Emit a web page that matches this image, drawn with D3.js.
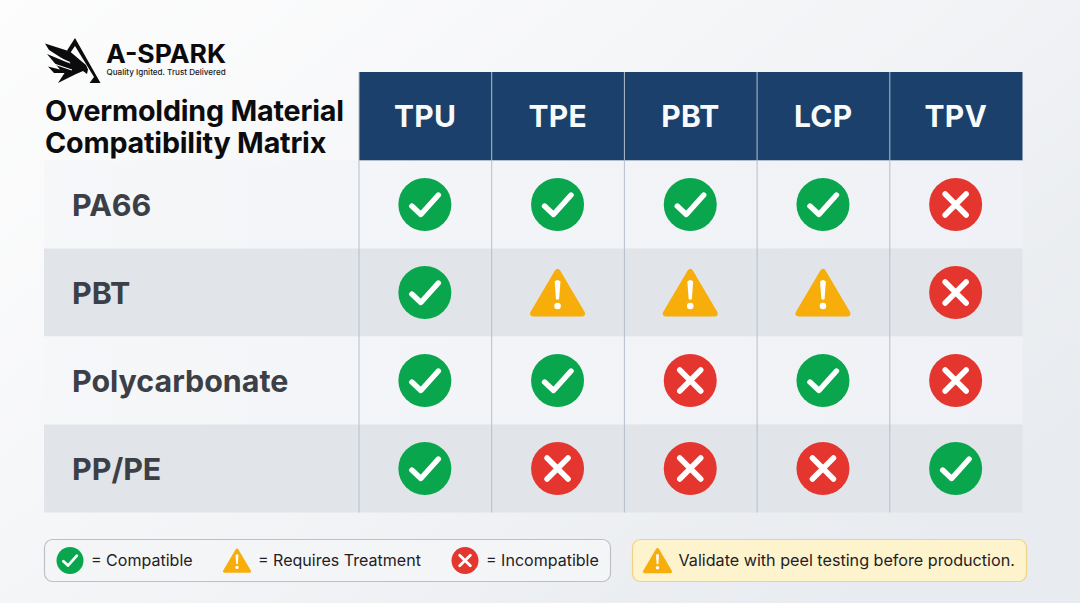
<!DOCTYPE html>
<html><head><meta charset="utf-8">
<script src="https://cdn.jsdelivr.net/npm/d3@7/dist/d3.min.js"></script>
<style>html,body{margin:0;padding:0;background:#fff;overflow:hidden}svg{display:block}text{font-family:Inter,"Noto Sans",sans-serif}</style>
</head><body><svg id="c" width="1080" height="603"></svg>
<script>
const columns = ["TPU","TPE","PBT","LCP","TPV"];
const materials = ["PA66","PBT","Polycarbonate","PP/PE"];
const rowPA66 = ["ok","ok","ok","ok","no"];
const rowPBT = ["ok","warn","warn","warn","no"];
const rowPC = ["ok","ok","no","ok","no"];
const rowPPPE = ["ok","no","no","no","ok"];
const matrix = [rowPA66,rowPBT,rowPC,rowPPPE];
const titleLines = ["Overmolding Material","Compatibility Matrix"];
const legendItems = [{k:"ok",t:"= Compatible"},{k:"warn",t:"= Requires Treatment"},{k:"no",t:"= Incompatible"}];
const legendX = [70,237,465];
const note = "Validate with peel testing before production.";

const svg = d3.select("#c");
const defs = svg.append("defs");
const bg = defs.append("linearGradient").attr("id","bg").attr("x1",0).attr("y1",0).attr("x2",1).attr("y2",0.7);
bg.append("stop").attr("offset",0).attr("stop-color","#fdfdfd");
bg.append("stop").attr("offset",0.45).attr("stop-color","#f5f6f8");
bg.append("stop").attr("offset",1).attr("stop-color","#e8ebef");
svg.append("rect").attr("width",1080).attr("height",603).attr("fill","url(#bg)");
const rowL = defs.append("linearGradient").attr("id","rowL");
rowL.append("stop").attr("offset",0).attr("stop-color","#f6f7f9");
rowL.append("stop").attr("offset",1).attr("stop-color","#eff1f6");

const x = d3.scaleBand().domain(columns).range([359,1022.5]);
const y = d3.scaleBand().domain(materials).range([160.5,512.5]);
const LEFT = 44;

svg.selectAll(".band").data(materials).join("rect")
  .attr("x",LEFT).attr("y",d=>y(d)).attr("width",1022.5-LEFT).attr("height",y.bandwidth())
  .attr("fill",(d,i)=>i%2?"#e1e4e8":"url(#rowL)");
svg.append("rect").attr("x",359).attr("y",72).attr("width",663.5).attr("height",88.5).attr("fill","#1b406b");
svg.selectAll(".hd").data(columns).join("text")
  .attr("x",d=>x(d)+x.bandwidth()/2-0.3).attr("y",127).attr("text-anchor","middle")
  .attr("font-size",30).attr("font-weight",700).attr("fill","#f8fafc").attr("letter-spacing",0.2).text(d=>d);
svg.selectAll(".vl").data(columns).join("line")
  .attr("x1",d=>x(d)).attr("x2",d=>x(d)).attr("y1",72).attr("y2",512.5)
  .attr("stroke","#b4bfca").attr("stroke-width",1);
svg.append("line").attr("x1",359).attr("x2",1022.5).attr("y1",160.5).attr("y2",160.5).attr("stroke","#b4bfca").attr("stroke-width",1);
svg.selectAll(".rl").data(materials).join("text")
  .attr("x",72).attr("y",d=>y(d)+y.bandwidth()/2+11).attr("font-size",30.4).attr("font-weight",700)
  .attr("fill","#3c4046").text(d=>d);

function icon(g,kind,r){
  const s=r/26.5;
  if(kind==="ok"){
    g.append("circle").attr("r",r).attr("fill","#0aa64e");
    g.append("path").attr("d",`M${-13*s},${1.5*s}L${-4*s},${10*s}L${13.5*s},${-9.5*s}`).attr("fill","none")
      .attr("stroke","#fff").attr("stroke-width",5.4*s).attr("stroke-linecap","round").attr("stroke-linejoin","round");
  } else if(kind==="no"){
    g.append("circle").attr("r",r).attr("fill","#e4362e");
    g.append("path").attr("d",`M${-10.5*s},${-10.5*s}L${10.5*s},${10.5*s}M${10.5*s},${-10.5*s}L${-10.5*s},${10.5*s}`)
      .attr("fill","none").attr("stroke","#fff").attr("stroke-width",5.5*s).attr("stroke-linecap","round");
  } else {
    g.append("path").attr("d",`M0,${-20.5*s}L${-24.5*s},${21*s}L${24.5*s},${21*s}Z`).attr("fill","#f7ae0a")
      .attr("stroke","#f7ae0a").attr("stroke-width",6*s).attr("stroke-linejoin","round");
    g.append("path").attr("d",`M${-2.9*s},${-11*s}Q0,${-14*s} ${2.9*s},${-11*s}L${1.6*s},${6.5*s}Q0,${8*s} ${-1.6*s},${6.5*s}Z`).attr("fill","#fff");
    g.append("circle").attr("cy",13.5*s).attr("r",3.3*s).attr("fill","#fff");
  }
}
matrix.forEach((row,ri)=>row.forEach((k,ci)=>{
  const g=svg.append("g").attr("transform",`translate(${x(columns[ci])+x.bandwidth()/2-0.5},${y(materials[ri])+y.bandwidth()/2})`);
  icon(g,k,26.5);
}));

svg.selectAll(".tt").data(titleLines).join("text").attr("x",45).attr("y",(d,i)=>121+i*32)
  .attr("font-size",28.7).attr("font-weight",700).attr("fill","#0c0c0e").attr("letter-spacing",-0.2).text(d=>d);

// logo
const logo=svg.append("g").attr("fill","#0b0b0d");
logo.append("path").attr("d","M75,38L100.5,83L89.5,83L94,77L75,46L70.5,52.5L67,50.5Z");
logo.append("path").attr("d","M45,43.5L70,51.5L80,60L86,65L88,69.5L87,74L83,71L75,74.5L58,83L64.5,73L54,73L48,66.5L60,69.5L47,54L71,64L49,50Z");
logo.append("path").attr("d","M50,54L70,62.5M54,64L72,70").attr("stroke","#fafafa").attr("stroke-width",1.2).attr("fill","none");
svg.append("text").attr("x",106).attr("y",63).attr("font-size",25).attr("font-weight",700).attr("fill","#0b0b0d")
  .attr("textLength",120).attr("lengthAdjust","spacingAndGlyphs").text("A-SPARK");
svg.append("text").attr("x",106.5).attr("y",75).attr("font-size",8.1).attr("font-weight",500).attr("fill","#18181b").text("Quality Ignited. Trust Delivered");

// legend
svg.append("rect").attr("x",44.5).attr("y",539.5).attr("width",566).attr("height",42).attr("rx",8)
  .attr("fill","#f4f5f7").attr("stroke","#bcc0c6").attr("stroke-width",1.2);
legendItems.forEach((d,i)=>{
  const g=svg.append("g").attr("transform",`translate(${legendX[i]},${560.5})`);
  icon(g,d.k,13.5);
  svg.append("text").attr("x",legendX[i]+21).attr("y",566).attr("font-size",16.05).attr("fill","#1f2125").text(d.t);
});
svg.append("rect").attr("x",632.5).attr("y",539.5).attr("width",394).attr("height",42).attr("rx",8)
  .attr("fill","#fdf3cd").attr("stroke","#efd283").attr("stroke-width",1.2);
icon(svg.append("g").attr("transform","translate(657.5,560.5)"),"warn",14);
svg.append("text").attr("x",678.5).attr("y",566).attr("font-size",16.15).attr("fill","#1f2125").text(note);
</script></body></html>
